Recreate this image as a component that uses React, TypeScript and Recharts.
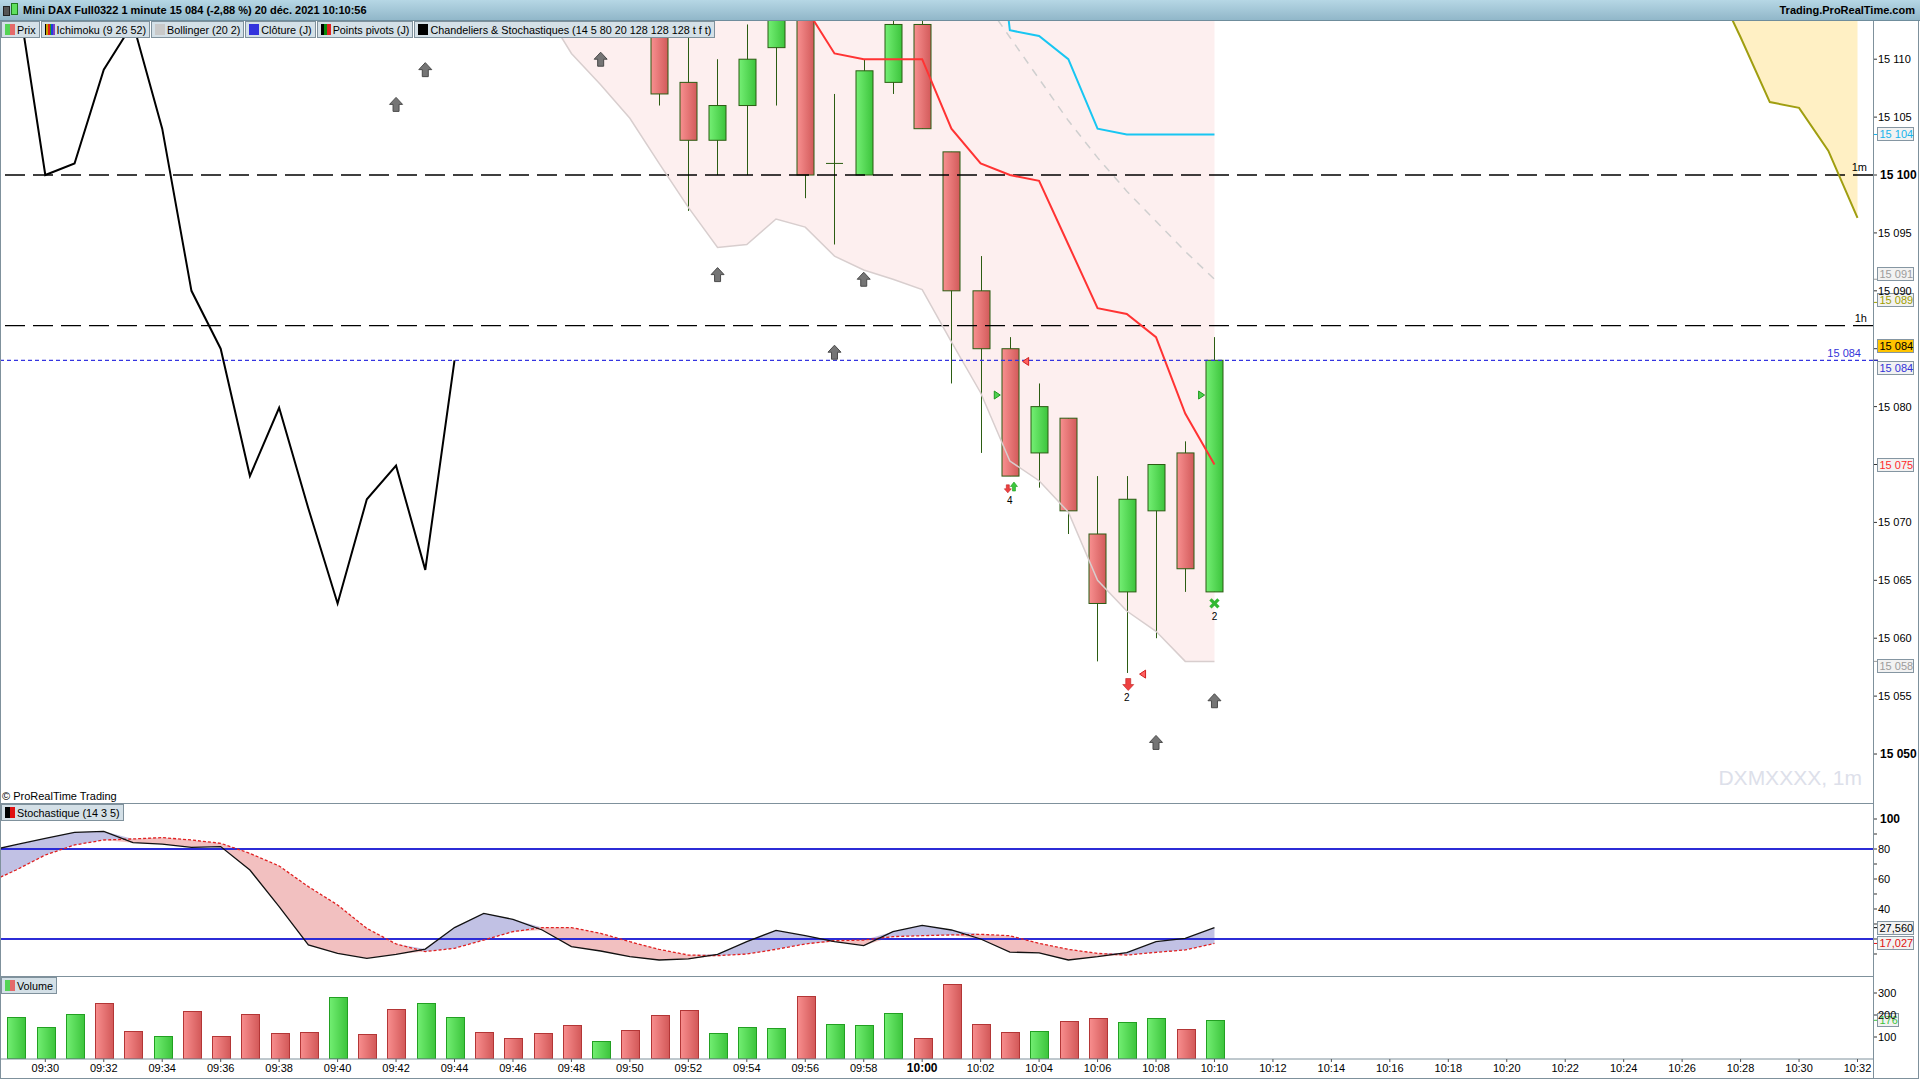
import React from 'react';
import { ComposedChart, Bar, Line, Area, Scatter, XAxis, YAxis, ReferenceLine } from 'recharts';

// visible window in minutes after 09:00
const T_START = 28.45;
const T_END = 92.53;

const barTimes = ['09:29', '09:30', '09:31', '09:32', '09:33', '09:34', '09:35', '09:36', '09:37', '09:38', '09:39', '09:40', '09:41', '09:42', '09:43', '09:44', '09:45', '09:46', '09:47', '09:48', '09:49', '09:50', '09:51', '09:52', '09:53', '09:54', '09:55', '09:56', '09:57', '09:58', '09:59', '10:00', '10:01', '10:02', '10:03', '10:04', '10:05', '10:06', '10:07', '10:08', '10:09', '10:10'];
const volumes = [189, 144, 203, 253, 126, 103, 217, 103, 203, 117, 121, 280, 112, 226, 253, 189, 121, 94, 117, 153, 80, 130, 198, 221, 117, 144, 139, 285, 158, 153, 207, 94, 339, 158, 121, 126, 171, 185, 167, 185, 135, 176];
const volumeDir = ['u', 'u', 'u', 'd', 'd', 'u', 'd', 'd', 'd', 'd', 'd', 'u', 'd', 'd', 'u', 'u', 'd', 'd', 'd', 'd', 'u', 'd', 'd', 'd', 'u', 'u', 'u', 'd', 'u', 'u', 'u', 'd', 'd', 'd', 'd', 'u', 'd', 'd', 'u', 'u', 'd', 'u'];

const stochTimes = ['09:28', ...barTimes];
const stochK = [78.5, 82.9, 87.1, 91.1, 91.8, 84.2, 83.3, 81.1, 81.6, 66, 41.6, 16, 10.4, 7.1, 9.8, 13.3, 27.6, 37.1, 33.1, 26, 14.9, 12, 8.2, 6, 6.7, 9.8, 18.2, 25.8, 22.2, 18.2, 15.6, 24.9, 29.1, 26, 20, 11.3, 10.7, 6, 8.2, 10.9, 18.2, 20.4, 27.56];
const stochD = [57, 66, 76, 82.7, 86, 86.7, 87.6, 86, 83.8, 77.1, 68.7, 54.9, 42.7, 27.1, 16.7, 11.6, 13.8, 19.3, 24.9, 27.6, 27.6, 23.8, 18.2, 13.1, 9.3, 8.9, 10, 13.1, 16.7, 18.9, 19.3, 21.6, 22.2, 22.7, 23.1, 22.2, 17.1, 13.1, 10.4, 9.3, 11.1, 12.7, 17.03];

const candleTimes = ['09:51', '09:52', '09:53', '09:54', '09:55', '09:56', '09:57', '09:58', '09:59', '10:00', '10:01', '10:02', '10:03', '10:04', '10:05', '10:06', '10:07', '10:08', '10:09', '10:10'];
const opens = [15113, 15108, 15103, 15106, 15111, 15116, 15101, 15100, 15108, 15113, 15102, 15090, 15085, 15076, 15079, 15069, 15064, 15071, 15076, 15064];
const highs = [15115, 15112.5, 15110, 15113, 15116, 15117, 15107, 15110, 15115, 15114, 15102, 15093, 15086, 15082, 15079, 15074, 15074, 15075, 15077, 15086];
const lows = [15106, 15096.9, 15100, 15100, 15106, 15098, 15094, 15100, 15107, 15104, 15082, 15076, 15074, 15073, 15069, 15058, 15057, 15060, 15064, 15064];
const closes = [15107, 15103, 15106, 15110, 15114.5, 15100, 15101, 15109, 15113, 15104, 15090, 15085, 15074, 15080, 15071, 15063, 15072, 15075, 15066, 15084];

const closeLineTimes = ['09:29', '09:30', '09:31', '09:32', '09:33', '09:34', '09:35', '09:36', '09:37', '09:38', '09:39', '09:40', '09:41', '09:42', '09:43', '09:44'];
const closeLine = [15116.5, 15100, 15101, 15109.1, 15113.1, 15104, 15090, 15085, 15074, 15079.9, 15071.2, 15063, 15072, 15074.9, 15065.9, 15084];

const kijunTimes = ['09:56', '09:57', '09:58', '09:59', '10:00', '10:01', '10:02', '10:03', '10:04', '10:05', '10:06', '10:07', '10:08', '10:09', '10:10'];
const kijun = [15114.5, 15110.5, 15110, 15110, 15110, 15104, 15101, 15100, 15099.5, 15094, 15088.5, 15088, 15086, 15079.4, 15075];

const lateTimes = ['10:02', '10:03', '10:04', '10:05', '10:06', '10:07', '10:08', '10:09', '10:10'];
const tenkan = [15134, 15112.5, 15112, 15110, 15104, 15103.5, 15103.5, 15103.5, 15103.5];
const bbMiddle = [15115.5, 15111.9, 15108.3, 15104.7, 15101.5, 15098.6, 15096, 15093.4, 15091];

const bbTimes = ['09:47', '09:48', '09:49', '09:50', '09:51', '09:52', '09:53', '09:54', '09:55', '09:56', '09:57', '09:58', '09:59', '10:00', '10:01', '10:02', '10:03', '10:04', '10:05', '10:06', '10:07', '10:08', '10:09', '10:10'];
const bbLower = [15114.6, 15110.5, 15107.8, 15104.9, 15101, 15097.2, 15093.75, 15094, 15096.2, 15095.5, 15093, 15091.8, 15091, 15090.1, 15085.6, 15081.2, 15075.3, 15073.6, 15070.9, 15065, 15062.35, 15060.6, 15058, 15058];
const bbUpper = [15142, 15141, 15140, 15139, 15138, 15138, 15137, 15137, 15136, 15136, 15135, 15135, 15134, 15134, 15133, 15132, 15131, 15130, 15129, 15128, 15127, 15126, 15125, 15124];

const cloudTimes = ['10:27', '10:28', '10:29', '10:30', '10:31', '10:32'];
const spanA = [15117.2, 15111.9, 15106.3, 15105.8, 15102.1, 15096.3];
const spanB = [15124, 15123, 15122, 15121, 15120, 15119];

const pivotArrowTimes = ['09:42', '09:43', '09:49', '09:53', '09:57', '09:58', '10:08', '10:10'];
const pivotArrowPrices = [15106.1, 15109.1, 15110, 15091.4, 15084.7, 15091, 15051, 15054.6];
const sellArrowT = [62.93, 67.05];
const sellArrowP = [15072.9, 15056.0];
const buyArrowT = [63.14];
const buyArrowP = [15073.1];
const crossT = [70];
const crossP = [15063];
const countT = [63, 67, 70];
const countP = [15071.9, 15054.9, 15061.9];
const countText = ['4', '2', '2'];
const leftTriT = [63.54, 67.54];
const leftTriP = [15083.9, 15056.9];
const rightTriT = [62.57, 69.56];
const rightTriP = [15081, 15081];

const priceTicks = [15050, 15055, 15060, 15065, 15070, 15075, 15080, 15085, 15090, 15095, 15100, 15105, 15110];
const stochTicks = [10, 20, 30, 40, 50, 60, 70, 80, 90, 100];
const volumeTicks = [100, 200, 300];
const timeTicks = ['09:30', '09:32', '09:34', '09:36', '09:38', '09:40', '09:42', '09:44', '09:46', '09:48', '09:50', '09:52', '09:54', '09:56', '09:58', '10:00', '10:02', '10:04', '10:06', '10:08', '10:10', '10:12', '10:14', '10:16', '10:18', '10:20', '10:22', '10:24', '10:26', '10:28', '10:30', '10:32'];

const toT = (s: string) => {
  const [h, m] = s.split(':').map(Number);
  return (h - 9) * 60 + m;
};
const fmtT = (t: number) => `${String(9 + Math.floor(t / 60)).padStart(2, '0')}:${String(t % 60).padStart(2, '0')}`;
const fmtP = (v: number) => String(v).replace(/\B(?=(\d{3})+(?!\d))/g, ' ');

const priceRows = (() => {
  const map = new Map<number, any>();
  const put = (times: string[], key: string, vals: any[]) =>
    times.forEach((s, i) => {
      const t = toT(s);
      const r = map.get(t) ?? { t };
      r[key] = vals[i];
      map.set(t, r);
    });
  put(candleTimes, 'o', opens);
  put(candleTimes, 'h', highs);
  put(candleTimes, 'l', lows);
  put(candleTimes, 'c', closes);
  put(candleTimes, 'hl', candleTimes.map((_, i) => [lows[i], highs[i]]));
  put(closeLineTimes, 'close', closeLine);
  put(kijunTimes, 'kijun', kijun);
  put(lateTimes, 'tenkan', tenkan);
  put(lateTimes, 'mid', bbMiddle);
  put(bbTimes, 'bbLow', bbLower);
  put(bbTimes, 'bb', bbTimes.map((_, i) => [bbLower[i], bbUpper[i]]));
  put(cloudTimes, 'spanA', spanA);
  put(cloudTimes, 'cloud', cloudTimes.map((_, i) => [spanA[i], spanB[i]]));
  return [...map.values()].sort((a, b) => a.t - b.t);
})();

const stochRows = stochTimes.map((s, i) => ({
  t: toT(s),
  k: stochK[i],
  d: stochD[i],
  above: [stochD[i], Math.max(stochK[i], stochD[i])],
  below: [Math.min(stochK[i], stochD[i]), stochD[i]],
}));

const volumeRows = barTimes.map((s, i) => ({ t: toT(s), vol: volumes[i], dir: volumeDir[i] }));

const zip = (ts: number[], ps: number[], extra?: string[]) => ts.map((t, i) => ({ t, p: ps[i], txt: extra ? extra[i] : '' }));
const pivotArrows = zip(pivotArrowTimes.map(toT), pivotArrowPrices);
const sellArrows = zip(sellArrowT, sellArrowP);
const buyArrows = zip(buyArrowT, buyArrowP);
const crosses = zip(crossT, crossP);
const counts = zip(countT, countP, countText);
const leftTris = zip(leftTriT, leftTriP);
const rightTris = zip(rightTriT, rightTriP);

const FRAME = '#7f919c';
const WICK = '#2b5c12';

const upArrow = (cx: number, cy: number, w: number, h: number, sw: number) => {
  const t = cy - h / 2, m = cy - h / 2 + h * 0.5, b = cy + h / 2;
  return `M${cx},${t} L${cx + w / 2},${m} L${cx + sw / 2},${m} L${cx + sw / 2},${b} L${cx - sw / 2},${b} L${cx - sw / 2},${m} L${cx - w / 2},${m} Z`;
};
const downArrow = (cx: number, cy: number, w: number, h: number, sw: number) => {
  const t = cy - h / 2, m = cy + h / 2 - h * 0.5, b = cy + h / 2;
  return `M${cx},${b} L${cx + w / 2},${m} L${cx + sw / 2},${m} L${cx + sw / 2},${t} L${cx - sw / 2},${t} L${cx - sw / 2},${m} L${cx - w / 2},${m} Z`;
};

const CandleShape = (props: any) => {
  const { x, y, width, height, payload } = props;
  if (!payload || payload.o == null || !Number.isFinite(y) || !Number.isFinite(height)) return <g />;
  const { o, h, l, c } = payload;
  const k = height / (h - l);
  const py = (v: number) => y + (h - v) * k;
  const cx = Math.round(x + width / 2) + 0.5;
  const left = cx - 8.5;
  const top = py(Math.max(o, c));
  const bot = py(Math.min(o, c));
  return (
    <g>
      <line x1={cx} x2={cx} y1={py(h)} y2={py(l)} stroke={WICK} strokeWidth={1} />
      {o === c ? (
        <line x1={left} x2={left + 17} y1={top} y2={top} stroke={WICK} strokeWidth={1} />
      ) : (
        <rect x={left} y={top} width={17} height={bot - top} fill={c > o ? 'url(#gUp)' : 'url(#gDn)'} stroke={WICK} strokeWidth={1} />
      )}
    </g>
  );
};

const VolumeShape = (props: any) => {
  const { x, y, width, height, payload } = props;
  if (!payload || !Number.isFinite(y)) return <g />;
  const up = payload.dir === 'u';
  const cx = Math.round(x + width / 2);
  return (
    <rect x={cx - 8.5} y={Math.round(y) + 0.5} width={18} height={height - 0.5} fill={up ? 'url(#vUp)' : 'url(#vDn)'} stroke={up ? '#22a022' : '#b33636'} strokeWidth={1} />
  );
};

const PivotArrow = (p: any) => <path d={upArrow(p.cx, p.cy, 13, 14, 6)} fill="#757575" stroke="#4a4a4a" strokeWidth={1} />;
const SellArrow = (p: any) => {
  const big = p.payload && p.payload.t > 65;
  return <path d={big ? downArrow(p.cx, p.cy, 11, 12, 5) : downArrow(p.cx, p.cy, 7, 8, 3)} fill="#ee4040" stroke="#c02020" strokeWidth={0.6} />;
};
const BuyArrow = (p: any) => <path d={upArrow(p.cx, p.cy, 7, 9, 3)} fill="#3cc83c" stroke="#1e9a1e" strokeWidth={0.6} />;
const CrossMark = (p: any) => (
  <g stroke="#33b833" strokeWidth={3.2}>
    <line x1={p.cx - 4} y1={p.cy - 4} x2={p.cx + 4} y2={p.cy + 4} />
    <line x1={p.cx - 4} y1={p.cy + 4} x2={p.cx + 4} y2={p.cy - 4} />
  </g>
);
const CountMark = (p: any) => (
  <text x={p.cx} y={p.cy + 4} textAnchor="middle" fontSize={10} fill="#000">
    {p.payload ? p.payload.txt : ''}
  </text>
);
const LeftTri = (p: any) => <path d={`M${p.cx - 3},${p.cy} L${p.cx + 3},${p.cy - 4} L${p.cx + 3},${p.cy + 4} Z`} fill="#ff6060" stroke="#d02020" strokeWidth={1} />;
const RightTri = (p: any) => <path d={`M${p.cx + 3},${p.cy} L${p.cx - 3},${p.cy - 4} L${p.cx - 3},${p.cy + 4} Z`} fill="#50d050" stroke="#1e9a1e" strokeWidth={1} />;

const PriceTick = (p: any) => {
  const v = p.payload.value;
  if (v === 15085 || v === 15075) return <g />;
  const bold = v === 15100 || v === 15050;
  return (
    <text x={p.x + (bold ? 2 : 0)} y={p.y} dy={4} fontSize={bold ? 12 : 11} fontWeight={bold ? 700 : 400} fill="#000" textAnchor="start">
      {fmtP(v)}
    </text>
  );
};
const StochTick = (p: any) => {
  const v = p.payload.value;
  if (v % 20 !== 0 || v === 20) return <g />;
  const bold = v === 100;
  return (
    <text x={p.x + (bold ? 2 : 0)} y={p.y} dy={4} fontSize={bold ? 12 : 11} fontWeight={bold ? 700 : 400} fill="#000" textAnchor="start">
      {v}
    </text>
  );
};
const VolumeTick = (p: any) => (
  <text x={p.x} y={p.y} dy={4} fontSize={11} fill="#000" textAnchor="start">
    {p.payload.value}
  </text>
);
const TimeTick = (p: any) => {
  const v = p.payload.value;
  const bold = v === 60;
  return (
    <text x={p.x} y={p.y} dy={8} fontSize={bold ? 12 : 11} fontWeight={bold ? 700 : 400} fill="#000" textAnchor="middle">
      {fmtT(v)}
    </text>
  );
};

const tag = (text: string, color: string, bg: string, dy: number, w = 36) => ({
  content: (p: any) => {
    const vb = p.viewBox || {};
    const ax = vb.x + vb.width;
    const yy = vb.y + dy;
    return (
      <g>
        <line x1={ax} x2={ax + 5} y1={vb.y} y2={vb.y} stroke={bg === '#ffc400' ? '#000' : color} strokeWidth={1} />
        <rect x={ax + 4.5} y={Math.round(yy) - 6.5} width={w} height={13} fill={bg} stroke="#8596a2" strokeWidth={1} />
        <text x={ax + 6.5} y={Math.round(yy) + 4} fontSize={11} fill={color}>
          {text}
        </text>
      </g>
    );
  },
});

const lineText = (text: string, color: string, dx: number, dy: number) => ({
  content: (p: any) => {
    const vb = p.viewBox || {};
    return (
      <text x={vb.x + vb.width + dx} y={vb.y + dy} fontSize={11} fill={color} textAnchor="end">
        {text}
      </text>
    );
  },
});

const priceTags = [
  { v: 15103.5, text: '15 104', color: '#17b4ec', bg: '#f2f2f2', dy: 0 },
  { v: 15091, text: '15 091', color: '#9c9c9c', bg: '#f2f2f2', dy: -5 },
  { v: 15089, text: '15 089', color: '#9f9f00', bg: '#f2f2f2', dy: -2 },
  { v: 15084, text: '15 084', color: '#000000', bg: '#ffc400', dy: -14 },
  { v: 15084, text: '15 084', color: '#3434d8', bg: '#f2f2f2', dy: 8 },
  { v: 15075, text: '15 075', color: '#ff2b2b', bg: '#f2f2f2', dy: 0 },
  { v: 15058, text: '15 058', color: '#9c9c9c', bg: '#f2f2f2', dy: 4.5 },
];

const LegendBox = ({ icon, text }: { icon: string[]; text: string }) => (
  <div style={{ display: 'flex', alignItems: 'center', height: 15, padding: '0 3px 0 3px', background: '#d4e0e7', border: `1px solid ${FRAME}`, marginRight: 1 }}>
    <span style={{ display: 'inline-flex', width: 10, height: 11, marginRight: 2 }}>
      {icon.map((c, i) => (
        <span key={i} style={{ flex: 1, background: c }} />
      ))}
    </span>
    <span style={{ fontSize: 10.8, color: '#000', whiteSpace: 'nowrap' }}>{text}</span>
  </div>
);

const abs = (s: React.CSSProperties): React.CSSProperties => ({ position: 'absolute', ...s });

export default function App() {
  return (
    <div style={{ position: 'relative', width: 1920, height: 1080, background: '#fff', overflow: 'hidden', fontFamily: '"Liberation Sans", Arial, sans-serif' }}>
      <style>{'body{margin:0}'}</style>

      {/* price panel */}
      <div style={abs({ left: 0, top: 21 })}>
        <ComposedChart width={1920} height={782} data={priceRows} margin={{ top: 0, right: 0, bottom: 0, left: 0 }}>
          <defs>
            <linearGradient id="gUp" x1="0" x2="1" y1="0" y2="0">
              <stop offset="0" stopColor="#74ef74" />
              <stop offset="1" stopColor="#3cc43c" />
            </linearGradient>
            <linearGradient id="gDn" x1="0" x2="1" y1="0" y2="0">
              <stop offset="0" stopColor="#f89090" />
              <stop offset="1" stopColor="#d25a5a" />
            </linearGradient>
          </defs>
          <XAxis type="number" dataKey="t" domain={[T_START, T_END]} allowDataOverflow hide />
          <XAxis xAxisId="m" type="number" dataKey="t" domain={[T_START, T_END]} allowDataOverflow hide />
          <YAxis orientation="right" type="number" domain={[15045.77, 15113.3]} allowDataOverflow ticks={priceTicks} interval={0} width={47} tick={PriceTick} tickLine={{ stroke: '#333' }} tickSize={4} tickMargin={1} axisLine={false} />
          <Area dataKey="bb" type="linear" stroke="none" fill="#fdefef" fillOpacity={1} isAnimationActive={false} dot={false} activeDot={false} />
          <Area dataKey="cloud" type="linear" stroke="none" fill="#fff0c4" fillOpacity={1} isAnimationActive={false} dot={false} activeDot={false} />
          <ReferenceLine y={15100} stroke="#000" strokeWidth={1.3} strokeDasharray="20 8" label={lineText('1m', '#000', -6, -4)} />
          <ReferenceLine y={15087} stroke="#000" strokeWidth={1.3} strokeDasharray="20 8" label={lineText('1h', '#000', -6, -4)} />
          <Line dataKey="bbLow" type="linear" stroke="#d8cece" strokeWidth={1.5} dot={false} activeDot={false} isAnimationActive={false} />
          <Line dataKey="mid" type="linear" stroke="#cfcfcf" strokeWidth={1.5} strokeDasharray="8 7" dot={false} activeDot={false} isAnimationActive={false} />
          <Line dataKey="tenkan" type="linear" stroke="#18c6f2" strokeWidth={2} dot={false} activeDot={false} isAnimationActive={false} />
          <Bar dataKey="hl" barSize={17} shape={CandleShape} isAnimationActive={false} />
          <Line dataKey="kijun" type="linear" stroke="#ff3333" strokeWidth={2} dot={false} activeDot={false} isAnimationActive={false} />
          <Line dataKey="close" type="linear" stroke="#000" strokeWidth={2} dot={false} activeDot={false} isAnimationActive={false} />
          <Line dataKey="spanA" type="linear" stroke="#a09e10" strokeWidth={2} dot={false} activeDot={false} isAnimationActive={false} />
          <ReferenceLine y={15084} stroke="#3434e0" strokeWidth={1.2} strokeDasharray="4 3" label={lineText('15 084', '#3434d8', -12, -3)} />
          <Scatter xAxisId="m" data={pivotArrows} dataKey="p" shape={PivotArrow} isAnimationActive={false} />
          <Scatter xAxisId="m" data={sellArrows} dataKey="p" shape={SellArrow} isAnimationActive={false} />
          <Scatter xAxisId="m" data={buyArrows} dataKey="p" shape={BuyArrow} isAnimationActive={false} />
          <Scatter xAxisId="m" data={crosses} dataKey="p" shape={CrossMark} isAnimationActive={false} />
          <Scatter xAxisId="m" data={counts} dataKey="p" shape={CountMark} isAnimationActive={false} />
          <Scatter xAxisId="m" data={leftTris} dataKey="p" shape={LeftTri} isAnimationActive={false} />
          <Scatter xAxisId="m" data={rightTris} dataKey="p" shape={RightTri} isAnimationActive={false} />
          {priceTags.map((g, i) => (
            <ReferenceLine key={i} y={g.v} stroke="transparent" label={tag(g.text, g.color, g.bg, g.dy)} />
          ))}
        </ComposedChart>
      </div>

      {/* stochastic panel */}
      <div style={abs({ left: 0, top: 803 })}>
        <ComposedChart width={1920} height={173} data={stochRows} margin={{ top: 0, right: 0, bottom: 0, left: 0 }}>
          <XAxis type="number" dataKey="t" domain={[T_START, T_END]} allowDataOverflow hide />
          <YAxis orientation="right" type="number" domain={[-4.67, 110.67]} allowDataOverflow ticks={stochTicks} interval={0} width={47} tick={StochTick} tickLine={{ stroke: '#333' }} tickSize={4} tickMargin={1} axisLine={false} />
          <Area dataKey="above" type="linear" stroke="none" fill="#c1c1e4" fillOpacity={1} isAnimationActive={false} dot={false} activeDot={false} />
          <Area dataKey="below" type="linear" stroke="none" fill="#f2c0c0" fillOpacity={1} isAnimationActive={false} dot={false} activeDot={false} />
          <ReferenceLine y={80} stroke="#2c2cd6" strokeWidth={2} />
          <ReferenceLine y={20} stroke="#2c2cd6" strokeWidth={2} />
          <Line dataKey="d" type="linear" stroke="#e02020" strokeWidth={1.3} strokeDasharray="3 2" dot={false} activeDot={false} isAnimationActive={false} />
          <Line dataKey="k" type="linear" stroke="#111" strokeWidth={1.3} dot={false} activeDot={false} isAnimationActive={false} />
          <ReferenceLine y={27.56} stroke="transparent" label={tag('27,560', '#000', '#f2f2f2', 0)} />
          <ReferenceLine y={17.03} stroke="transparent" label={tag('17,027', '#e01010', '#f2f2f2', 0)} />
        </ComposedChart>
      </div>

      {/* volume panel */}
      <div style={abs({ left: 0, top: 976 })}>
        <ComposedChart width={1920} height={102} data={volumeRows} margin={{ top: 0, right: 0, bottom: 0, left: 0 }}>
          <defs>
            <linearGradient id="vUp" x1="0" x2="1" y1="0" y2="0">
              <stop offset="0" stopColor="#72ee72" />
              <stop offset="1" stopColor="#3cc43c" />
            </linearGradient>
            <linearGradient id="vDn" x1="0" x2="1" y1="0" y2="0">
              <stop offset="0" stopColor="#f88e8e" />
              <stop offset="1" stopColor="#d25858" />
            </linearGradient>
          </defs>
          <XAxis type="number" dataKey="t" domain={[T_START, T_END]} allowDataOverflow ticks={timeTicks.map(toT)} interval={0} height={19} tick={TimeTick} tickLine={{ stroke: '#555' }} tickSize={3} tickMargin={2} axisLine={{ stroke: FRAME }} />
          <YAxis orientation="right" type="number" domain={[0, 377.3]} allowDataOverflow ticks={volumeTicks} interval={0} width={47} tick={VolumeTick} tickLine={{ stroke: '#333' }} tickSize={4} tickMargin={1} axisLine={false} />
          <Bar dataKey="vol" barSize={18} shape={VolumeShape} isAnimationActive={false} />
          <ReferenceLine y={176} stroke="transparent" label={tag('176', '#3cc43c', '#f2f2f2', 0, 21)} />
        </ComposedChart>
      </div>

      {/* frame */}
      <div style={abs({ left: 0, top: 21, width: 1, height: 1057, background: FRAME })} />
      <div style={abs({ left: 1873, top: 21, width: 1, height: 1057, background: FRAME })} />
      <div style={abs({ left: 1918, top: 0, width: 1, height: 1079, background: FRAME })} />
      <div style={abs({ left: 0, top: 803, width: 1873, height: 1, background: FRAME })} />
      <div style={abs({ left: 0, top: 976, width: 1873, height: 1, background: FRAME })} />
      <div style={abs({ left: 0, top: 1078, width: 1919, height: 1, background: FRAME })} />

      {/* title bar */}
      <div style={abs({ left: 0, top: 0, width: 1920, height: 20, background: 'linear-gradient(#b6d7e5, #91b7c9)', borderBottom: '1px solid #6f8d9c' })}>
        <div style={abs({ left: 3, top: 6, width: 5, height: 8, background: '#555', border: '1px solid #222' })} />
        <div style={abs({ left: 11, top: 3, width: 5, height: 10, background: '#5ee05e', border: '1px solid #1e7a1e' })} />
        <div style={abs({ left: 23, top: 0, lineHeight: '20px', fontSize: 11, fontWeight: 700, color: '#000', whiteSpace: 'nowrap' })}>
          Mini DAX Full0322 1 minute 15 084 (-2,88 %) 20 déc. 2021 10:10:56
        </div>
        <div style={abs({ right: 5, top: 0, lineHeight: '20px', fontSize: 11, fontWeight: 700, color: '#000', whiteSpace: 'nowrap' })}>Trading.ProRealTime.com</div>
      </div>

      {/* indicator legend */}
      <div style={abs({ left: 1, top: 21, display: 'flex' })}>
        <LegendBox icon={['#55d455', '#e46a6a']} text="Prix" />
        <LegendBox icon={['#000', '#c8a000', '#e02020', '#20a020', '#2040e0', '#8040c0']} text="Ichimoku (9 26 52)" />
        <LegendBox icon={['#c9c9c9']} text="Bollinger (20 2)" />
        <LegendBox icon={['#3333dd']} text="Clôture (J)" />
        <LegendBox icon={['#000', '#0a8a0a', '#e02020']} text="Points pivots (J)" />
        <LegendBox icon={['#000']} text="Chandeliers & Stochastiques (14 5 80 20 128 128 128 t f t)" />
      </div>

      <div style={abs({ left: 2, top: 790, fontSize: 11, color: '#000', whiteSpace: 'nowrap' })}>© ProRealTime Trading</div>
      <div style={abs({ right: 58, top: 766, fontSize: 21, color: '#dde0ea', whiteSpace: 'nowrap' })}>DXMXXXX, 1m</div>

      <div style={abs({ left: 1, top: 804, display: 'flex' })}>
        <LegendBox icon={['#000', '#e01010']} text="Stochastique (14 3 5)" />
      </div>
      <div style={abs({ left: 1, top: 977, display: 'flex' })}>
        <LegendBox icon={['#55d455', '#e46a6a']} text="Volume" />
      </div>
    </div>
  );
}
